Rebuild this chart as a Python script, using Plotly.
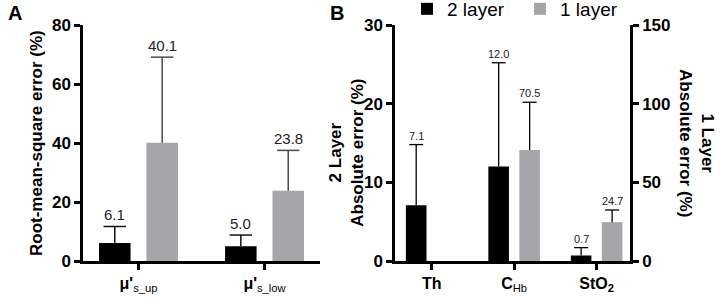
import plotly.graph_objects as go

# ---- data ----
a_categories = ["<b>μ'</b><sub>s_up</sub>", "<b>μ'</b><sub>s_low</sub>"]
a_two_layer = [6.1, 5.0]
a_two_layer_sd = [5.6, 3.8]
a_one_layer = [40.1, 23.8]
a_one_layer_sd = [29.0, 13.7]

b_categories = ["<b>Th</b>", "<b>C</b><sub>Hb</sub>", "<b>StO<sub>2</sub></b>"]
b_two_layer = [7.1, 12.0, 0.7]
b_two_layer_sd = [7.7, 13.2, 1.0]
b_one_layer = [None, 70.5, 24.7]
b_one_layer_sd = [None, 30.4, 7.7]

legend_names = ["2 layer", "1 layer"]

BLACK = "#000000"
GRAY = "#a6a5aa"
FONT = "Arial, Liberation Sans, sans-serif"

W = 0.25
SHIFT = 0.188
OFF_BLACK = -SHIFT - W / 2
OFF_GRAY = SHIFT - W / 2

fig = go.Figure()

ax = list(range(len(a_categories)))
bx = list(range(len(b_categories)))


def tops(vals, sds):
    return [None if v is None else v + s for v, s in zip(vals, sds)]


def add_series(xs, vals, sds, side, color, err_color, thick, capw, xa, ya, name, show):
    fig.add_trace(go.Bar(
        x=xs, y=vals, width=W, offset=(OFF_BLACK if side < 0 else OFF_GRAY),
        marker_color=color, marker_line_width=0, name=name, showlegend=show,
        error_y=dict(type="data", symmetric=False, array=[0 if s is None else s for s in sds],
                     arrayminus=[0] * len(xs), color=err_color, thickness=thick, width=0),
        xaxis=xa, yaxis=ya))
    # error-bar caps
    fig.add_trace(go.Scatter(
        x=[i + side * SHIFT for i in xs], y=tops(vals, sds), mode="markers",
        marker=dict(symbol="line-ew", size=capw, line=dict(color=err_color, width=thick)),
        showlegend=False, hoverinfo="skip", xaxis=xa, yaxis=ya))


add_series(ax, a_two_layer, a_two_layer_sd, -1, BLACK, "#111111", 1.5, 16, "x", "y", legend_names[0], False)
add_series(ax, a_one_layer, a_one_layer_sd, 1, GRAY, "#4a4a4a", 1.5, 16, "x", "y", legend_names[1], False)
add_series(bx, b_two_layer, b_two_layer_sd, -1, BLACK, "#000000", 1.3, 10, "x2", "y2", legend_names[0], True)
add_series(bx, b_one_layer, b_one_layer_sd, 1, GRAY, "#000000", 1.3, 10, "x2", "y3", legend_names[1], True)

annotations = []
# value labels
for i in ax:
    annotations.append(dict(x=i - SHIFT, y=a_two_layer[i] + a_two_layer_sd[i], xref="x", yref="y",
                            text=f"{a_two_layer[i]:.1f}", showarrow=False, yanchor="bottom",
                            xanchor="center", yshift=1,
                            font=dict(size=15, color="#222222", family=FONT)))
    annotations.append(dict(x=i + SHIFT, y=a_one_layer[i] + a_one_layer_sd[i], xref="x", yref="y",
                            text=f"{a_one_layer[i]:.1f}", showarrow=False, yanchor="bottom",
                            xanchor="center", yshift=1,
                            font=dict(size=15, color="#222222", family=FONT)))
for i in bx:
    annotations.append(dict(x=i - SHIFT, y=b_two_layer[i] + b_two_layer_sd[i], xref="x2", yref="y2",
                            text=f"{b_two_layer[i]:.1f}", showarrow=False, yanchor="bottom",
                            xanchor="center", yshift=1,
                            font=dict(size=11, color="#222222", family=FONT)))
    if b_one_layer[i] is not None:
        annotations.append(dict(x=i + SHIFT, y=b_one_layer[i] + b_one_layer_sd[i], xref="x2", yref="y3",
                                text=f"{b_one_layer[i]:.1f}", showarrow=False, yanchor="bottom",
                                xanchor="center", yshift=1,
                                font=dict(size=11, color="#222222", family=FONT)))

# panel letters and axis titles
annotations += [
    dict(x=0.021, y=1.051, xref="paper", yref="paper", text="<b>A</b>", showarrow=False,
         xanchor="center", yanchor="middle", font=dict(size=20, color="black", family=FONT)),
    dict(x=0.468, y=1.051, xref="paper", yref="paper", text="<b>B</b>", showarrow=False,
         xanchor="center", yanchor="middle", font=dict(size=20, color="black", family=FONT)),
    dict(x=0.05, y=0.5, xref="paper", yref="paper", text="<b>Root-mean-square error (%)</b>",
         textangle=-90, showarrow=False, xanchor="center", yanchor="middle",
         font=dict(size=17, color="black", family=FONT)),
    dict(x=0.481, y=0.46, xref="paper", yref="paper", text="<b>2 Layer<br>Absolute error (%)</b>",
         textangle=-90, showarrow=False, xanchor="center", yanchor="middle",
         font=dict(size=17, color="black", family=FONT)),
    dict(x=0.968, y=0.5, xref="paper", yref="paper", text="<b>1 Layer<br>Absolute error (%)</b>",
         textangle=90, showarrow=False, xanchor="center", yanchor="middle",
         font=dict(size=17, color="black", family=FONT)),
]

axis_common = dict(showline=True, linecolor="black", linewidth=2.5, ticks="outside",
                   tickcolor="black", tickwidth=2.5, ticklen=6, showgrid=False, zeroline=False,
                   automargin=False)

fig.update_layout(
    width=720, height=301,
    margin=dict(l=0, r=0, t=25, b=40, autoexpand=False),
    paper_bgcolor="white", plot_bgcolor="white",
    font=dict(family=FONT, color="black"),
    showlegend=True,
    legend=dict(orientation="h", x=407 / 720, y=1.068, xanchor="left", yanchor="middle",
                font=dict(size=19, color="black", family=FONT), bgcolor="rgba(0,0,0,0)",
                entrywidth=68, entrywidthmode="pixels", traceorder="normal"),
    xaxis=dict(domain=[83 / 720, 320 / 720], range=[-0.44, 1.44], tickvals=ax, ticktext=a_categories,
               tickfont=dict(size=16, family=FONT), anchor="y", **axis_common),
    yaxis=dict(domain=[0, 1], range=[0, 80], dtick=20, anchor="x",
               tickfont=dict(size=17, family=FONT, weight="bold"), **axis_common),
    xaxis2=dict(domain=[395 / 720, 630 / 720], range=[-0.445, 2.405], tickvals=bx, ticktext=b_categories,
                tickfont=dict(size=16, family=FONT), anchor="y2", **axis_common),
    yaxis2=dict(domain=[0, 1], range=[0, 30], dtick=10, anchor="x2",
                tickfont=dict(size=17, family=FONT, weight="bold"), **axis_common),
    yaxis3=dict(domain=[0, 1], range=[0, 150], dtick=50, anchor="x2", overlaying="y2", side="right",
                tickfont=dict(size=17, family=FONT, weight="bold"), **axis_common),
    annotations=annotations,
)

fig.write_html("out.html", config={"displayModeBar": False},
               post_script="document.body.style.margin='0';document.body.style.overflow='hidden';")
